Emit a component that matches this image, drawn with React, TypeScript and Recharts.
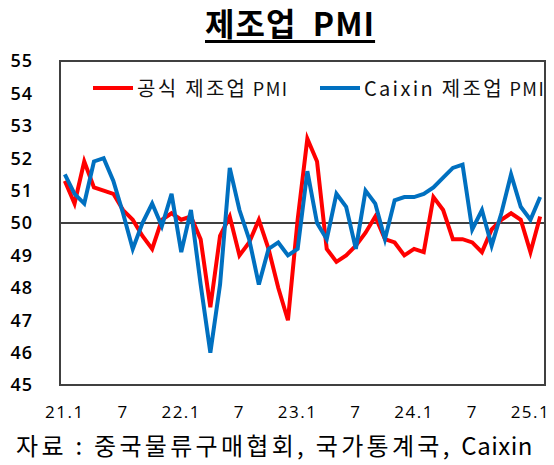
import React from 'react';
import { LineChart, Line, XAxis, YAxis, ReferenceLine } from 'recharts';

// 월별 카테고리 (21.1 ~ 25.2)
const months = [
  '21.1', '21.2', '21.3', '21.4', '21.5', '21.6', '21.7', '21.8', '21.9', '21.10', '21.11', '21.12',
  '22.1', '22.2', '22.3', '22.4', '22.5', '22.6', '22.7', '22.8', '22.9', '22.10', '22.11', '22.12',
  '23.1', '23.2', '23.3', '23.4', '23.5', '23.6', '23.7', '23.8', '23.9', '23.10', '23.11', '23.12',
  '24.1', '24.2', '24.3', '24.4', '24.5', '24.6', '24.7', '24.8', '24.9', '24.10', '24.11', '24.12',
  '25.1', '25.2',
];

// 국가통계국 공식 제조업 PMI
const officialPmi = [
  51.3, 50.6, 51.9, 51.1, 51.0, 50.9, 50.4, 50.1, 49.6, 49.2, 50.1, 50.3,
  50.1, 50.2, 49.5, 47.4, 49.6, 50.2, 49.0, 49.4, 50.1, 49.2, 48.0, 47.0,
  50.1, 52.6, 51.9, 49.2, 48.8, 49.0, 49.3, 49.7, 50.2, 49.5, 49.4, 49.0,
  49.2, 49.1, 50.8, 50.4, 49.5, 49.5, 49.4, 49.1, 49.8, 50.1, 50.3, 50.1,
  49.1, 50.2,
];

// Caixin 제조업 PMI
const caixinPmi = [
  51.5, 50.9, 50.6, 51.9, 52.0, 51.3, 50.3, 49.2, 50.0, 50.6, 49.9, 50.9,
  49.1, 50.4, 48.1, 46.0, 48.1, 51.7, 50.4, 49.5, 48.1, 49.2, 49.4, 49.0,
  49.2, 51.6, 50.0, 49.5, 50.9, 50.5, 49.2, 51.0, 50.6, 49.5, 50.7, 50.8,
  50.8, 50.9, 51.1, 51.4, 51.7, 51.8, 49.8, 50.4, 49.3, 50.3, 51.5, 50.5,
  50.1, 50.8,
];

const yTicks = [45, 46, 47, 48, 49, 50, 51, 52, 53, 54, 55];

const seriesNames = ['공식 제조업', 'Caixin 제조업'];

const RED = '#ff0000';
const BLUE = '#0070c0';

const data = months.map((m, i) => ({ month: m, official: officialPmi[i], caixin: caixinPmi[i] }));

const FONT = '"Open Sans", "Noto Sans CJK KR", sans-serif';
const KFONT = '"Noto Sans CJK KR", "Open Sans", sans-serif';

// 1월만 연도 표시, 나머지는 월만
const fmtMonth = (v: string) => {
  const [, m] = v.split('.');
  return m === '1' ? v : m;
};

const LegendItem = ({ name, color, left }: { name: string; color: string; left: number }) => (
  <div style={{ position: 'absolute', top: 73, left, display: 'flex', alignItems: 'center' }}>
    <div style={{ width: 40, height: 4, background: color, marginRight: 4 }} />
    <span style={{ fontFamily: KFONT, fontSize: 20, letterSpacing: 2.3, color: '#111', whiteSpace: 'pre' }}>
      {name}
      <span style={{ fontSize: 18, letterSpacing: 1.5 }}> PMI</span>
    </span>
  </div>
);

export default function App() {
  return (
    <div style={{ position: 'absolute', left: 0, top: 0, width: 554, height: 465, background: '#fff', overflow: 'hidden' }}>
      <div
        style={{
          position: 'absolute', top: 2, left: 205, fontFamily: KFONT, fontWeight: 700, fontSize: 32,
          lineHeight: '40px', letterSpacing: 1, textDecoration: 'underline', textUnderlineOffset: 4,
          whiteSpace: 'pre', color: '#000',
        }}
      >
        {'제조업  PMI'}
      </div>

      <LineChart width={554} height={465} data={data} margin={{ top: 61, right: 9, bottom: 50, left: 0 }}>
        <XAxis
          dataKey="month"
          interval={5}
          tickFormatter={fmtMonth}
          tickLine={false}
          tickSize={0}
          tickMargin={21}
          height={30}
          padding={{ left: 4.85, right: 4.85 }}
          axisLine={false}
          tick={{ fontFamily: FONT, fontSize: 17, letterSpacing: 1.5, fill: '#000' }}
        />
        <YAxis
          domain={[45, 55]}
          ticks={yTicks}
          width={60}
          tickLine={false}
          tickSize={0}
          tickMargin={27}
          axisLine={false}
          tick={{ fontFamily: FONT, fontSize: 18, fontWeight: 600, letterSpacing: 1, fill: '#000' }}
        />
        <ReferenceLine y={50} stroke="#000" strokeWidth={1.5} />
        <Line dataKey="official" stroke={RED} strokeWidth={4} dot={false} isAnimationActive={false} />
        <Line dataKey="caixin" stroke={BLUE} strokeWidth={4} dot={false} isAnimationActive={false} />
      </LineChart>

      {/* plot frame */}
      <div
        style={{
          position: 'absolute', left: 59, top: 60, width: 487, height: 326, boxSizing: 'border-box',
          border: '2px solid #404040', pointerEvents: 'none',
        }}
      />

      <LegendItem name={seriesNames[0]} color={RED} left={93} />
      <LegendItem name={seriesNames[1]} color={BLUE} left={320} />

      <div
        style={{
          position: 'absolute', top: 428, left: 16, fontFamily: KFONT, fontSize: 24, letterSpacing: 3.3,
          lineHeight: '34px', color: '#000', whiteSpace: 'pre',
        }}
      >
        {'자료 : 중국물류구매협회, 국가통계국, '}
        <span style={{ letterSpacing: 0.5 }}>Caixin</span>
      </div>
    </div>
  );
}
